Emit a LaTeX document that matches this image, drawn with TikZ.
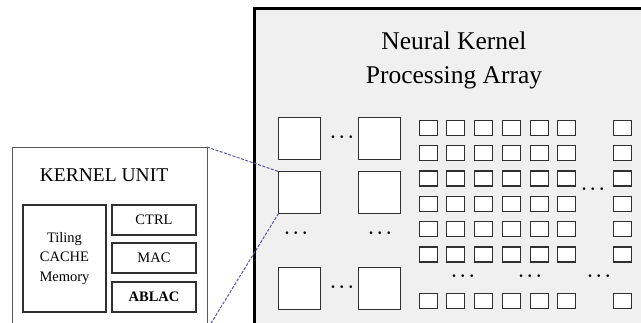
\documentclass[tikz,border=0pt]{standalone}
\usepackage{fontspec}
\setmainfont{Liberation Serif}
\definecolor{panelgray}{HTML}{F0F0F0}
\definecolor{boxline}{HTML}{303030}
\definecolor{linkblue}{HTML}{5858A0}
\tikzset{
  unitbox/.style={draw=boxline, line width=1.2pt, fill=white, inner sep=0pt, outer sep=0pt},
  bigsq/.style={draw=boxline, line width=1.3pt, fill=white, minimum width=42pt, minimum height=42pt, inner sep=0pt, outer sep=0pt, anchor=north west},
  smallsq/.style={draw=boxline, line width=1.1pt, fill=white, minimum width=18pt, minimum height=15pt, inner sep=0pt, outer sep=0pt, anchor=north west},
  dotsnode/.style={inner sep=0pt, font=\fontsize{19}{19}\selectfont\boldmath},
  link/.style={draw=linkblue, line width=1pt, dash pattern=on 3pt off 1.5pt},
  smalltext/.style={font=\fontsize{14.5}{19.5}\selectfont, align=center}
}
\begin{document}
\begin{tikzpicture}[x=1pt,y=-1pt]
\useasboundingbox (0,0) rectangle (641,322);
\clip (0,0) rectangle (641,322);
% processing array panel
\fill[panelgray] (254,8) rectangle (700,400);
\draw[line width=3pt] (700,8) -- (254,8) -- (254,400);
\node[anchor=base, font=\fontsize{25.5}{30}\selectfont] (t1) at (454,49) {Neural Kernel};
\node[anchor=base, font=\fontsize{25.5}{30}\selectfont] (t2) at (454,83) {Processing Array};
% big squares
\node[bigsq] (b11) at (278.5,117.5) {};
\node[bigsq] (b12) at (358.5,117.5) {};
\node[bigsq] (b21) at (278.5,171.5) {};
\node[bigsq] (b22) at (358.5,171.5) {};
\node[bigsq] (b31) at (278.5,267.5) {};
\node[bigsq] (b32) at (358.5,267.5) {};
\node[dotsnode] (d1) at (342,137) {$\cdots$};
\node[dotsnode] (d2) at (296,233) {$\cdots$};
\node[dotsnode] (d3) at (380,233) {$\cdots$};
\node[dotsnode] (d4) at (342,287) {$\cdots$};
% small squares
\foreach \r/\y in {1/120.5,2/145.5,3/171,4/196.5,5/221.5,6/247,7/293.5}{
  \foreach \c/\x in {1/419.5,2/446.5,3/474.5,4/502.5,5/530.5,6/557.5,7/613.5}{
    \node[smallsq] (s\r\c) at (\x,\y) {};
  }
}
\node[dotsnode] (d5) at (593,189) {$\cdots$};
\node[dotsnode] (d6) at (463,276) {$\cdots$};
\node[dotsnode] (d7) at (530,276) {$\cdots$};
\node[dotsnode] (d8) at (599,276) {$\cdots$};
% kernel unit
\node[draw=boxline!80, line width=1pt, fill=white, inner sep=0pt, outer sep=0pt, minimum width=195pt, minimum height=200pt, anchor=north west] (ku) at (12,147) {};
\node[anchor=base, font=\fontsize{19.5}{22}\selectfont] (kt) at (104,181) {KERNEL UNIT};
\node[unitbox, minimum width=83pt, minimum height=107pt, smalltext] (tile) at (64.5,258.5) {Tiling\\CACHE\\Memory};
\node[unitbox, minimum width=84pt, minimum height=30pt, smalltext] (ctrl) at (154,220) {CTRL};
\node[unitbox, minimum width=84pt, minimum height=30pt, smalltext] (mac) at (154,258) {MAC};
\node[unitbox, minimum width=84pt, minimum height=30pt, smalltext, font=\fontsize{14.5}{19.5}\selectfont\bfseries] (ablac) at (154,297) {ABLAC};
% connectors
\coordinate (kend) at (205,333);
\draw[link] (ku.north east) -- (b21.north west);
\draw[link] (b21.south west) -- (kend);
\end{tikzpicture}
\end{document}
